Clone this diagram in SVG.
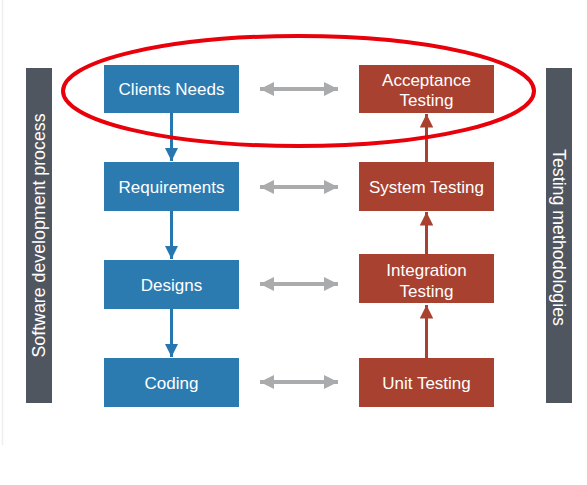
<svg xmlns="http://www.w3.org/2000/svg" width="587" height="485" viewBox="0 0 587 485">
<style>
  .blue { fill: #2b7bb1; }
  .red { fill: #a8412f; }
  .bar { fill: #50565f; }
  .lbl { font-family: "Liberation Sans", Arial, sans-serif; font-size: 17px; fill: #ffffff; text-anchor: middle; }
  .side { font-family: "Liberation Sans", Arial, sans-serif; font-size: 17.8px; fill: #ffffff; text-anchor: middle; }
  .gray { stroke: #a9abac; stroke-width: 4; fill: none; }
  .bline { stroke: #2677b0; stroke-width: 3; fill: none; }
  .rline { stroke: #a8412f; stroke-width: 3; fill: none; }
</style>
<defs>
  <marker id="ga" viewBox="0 0 10 10" refX="10" refY="5" markerWidth="3.5" markerHeight="3.5" orient="auto-start-reverse" markerUnits="strokeWidth">
    <path d="M0,0 L10,5 L0,10 Z" fill="#a9abac"/>
  </marker>
  <marker id="ba" viewBox="0 0 10 10" refX="10" refY="5" markerWidth="4.5" markerHeight="4.5" orient="auto" markerUnits="strokeWidth">
    <path d="M0,0 L10,5 L0,10 Z" fill="#2677b0"/>
  </marker>
  <marker id="ra" viewBox="0 0 10 10" refX="10" refY="5" markerWidth="4.5" markerHeight="4.5" orient="auto" markerUnits="strokeWidth">
    <path d="M0,0 L10,5 L0,10 Z" fill="#a8412f"/>
  </marker>
</defs>
<rect width="587" height="485" fill="#ffffff"/>
<line x1="2.5" y1="0" x2="2.5" y2="445" stroke="#eeeeee" stroke-width="1.5"/>

<g id="bar-left">
  <rect class="bar" x="26" y="68" width="26" height="335"/>
  <text class="side" transform="translate(45,235.5) rotate(-90)">Software development process</text>
</g>
<g id="bar-right">
  <rect class="bar" x="546" y="68" width="26" height="335"/>
  <text class="side" transform="translate(553,237.5) rotate(90)">Testing methodologies</text>
</g>

<g id="connectors">
  <line class="gray" x1="260" y1="89" x2="338" y2="89" marker-start="url(#ga)" marker-end="url(#ga)"/>
  <line class="gray" x1="260" y1="187" x2="338" y2="187" marker-start="url(#ga)" marker-end="url(#ga)"/>
  <line class="gray" x1="260" y1="284" x2="338" y2="284" marker-start="url(#ga)" marker-end="url(#ga)"/>
  <line class="gray" x1="260" y1="382" x2="338" y2="382" marker-start="url(#ga)" marker-end="url(#ga)"/>
  <line class="bline" x1="171.5" y1="113" x2="171.5" y2="161" marker-end="url(#ba)"/>
  <line class="bline" x1="171.5" y1="211" x2="171.5" y2="259" marker-end="url(#ba)"/>
  <line class="bline" x1="171.5" y1="309" x2="171.5" y2="357" marker-end="url(#ba)"/>
  <line class="rline" x1="426.5" y1="358" x2="426.5" y2="305" marker-end="url(#ra)"/>
  <line class="rline" x1="426.5" y1="254" x2="426.5" y2="212" marker-end="url(#ra)"/>
  <line class="rline" x1="426.5" y1="162" x2="426.5" y2="114" marker-end="url(#ra)"/>
</g>

<g id="clients-needs">
  <rect class="blue" x="104" y="65" width="135" height="48"/>
  <text class="lbl" x="171.5" y="95">Clients Needs</text>
</g>
<g id="requirements">
  <rect class="blue" x="104" y="162" width="135" height="49"/>
  <text class="lbl" x="171.5" y="193">Requirements</text>
</g>
<g id="designs">
  <rect class="blue" x="104" y="260" width="135" height="49"/>
  <text class="lbl" x="171.5" y="291">Designs</text>
</g>
<g id="coding">
  <rect class="blue" x="104" y="358" width="135" height="49"/>
  <text class="lbl" x="171.5" y="389">Coding</text>
</g>

<g id="acceptance-testing">
  <rect class="red" x="359" y="65" width="135" height="48"/>
  <text class="lbl" x="426.5" y="86">Acceptance</text>
  <text class="lbl" x="426.5" y="106">Testing</text>
</g>
<g id="system-testing">
  <rect class="red" x="359" y="162" width="135" height="49"/>
  <text class="lbl" x="426.5" y="193">System Testing</text>
</g>
<g id="integration-testing">
  <rect class="red" x="359" y="254" width="135" height="49"/>
  <text class="lbl" x="426.5" y="276">Integration</text>
  <text class="lbl" x="426.5" y="297">Testing</text>
</g>
<g id="unit-testing">
  <rect class="red" x="359" y="358" width="135" height="49"/>
  <text class="lbl" x="426.5" y="389">Unit Testing</text>
</g>

<g id="highlight">
  <ellipse cx="298.5" cy="91" rx="235.5" ry="55" fill="none" stroke="#e8000b" stroke-width="4"/>
</g>
</svg>
